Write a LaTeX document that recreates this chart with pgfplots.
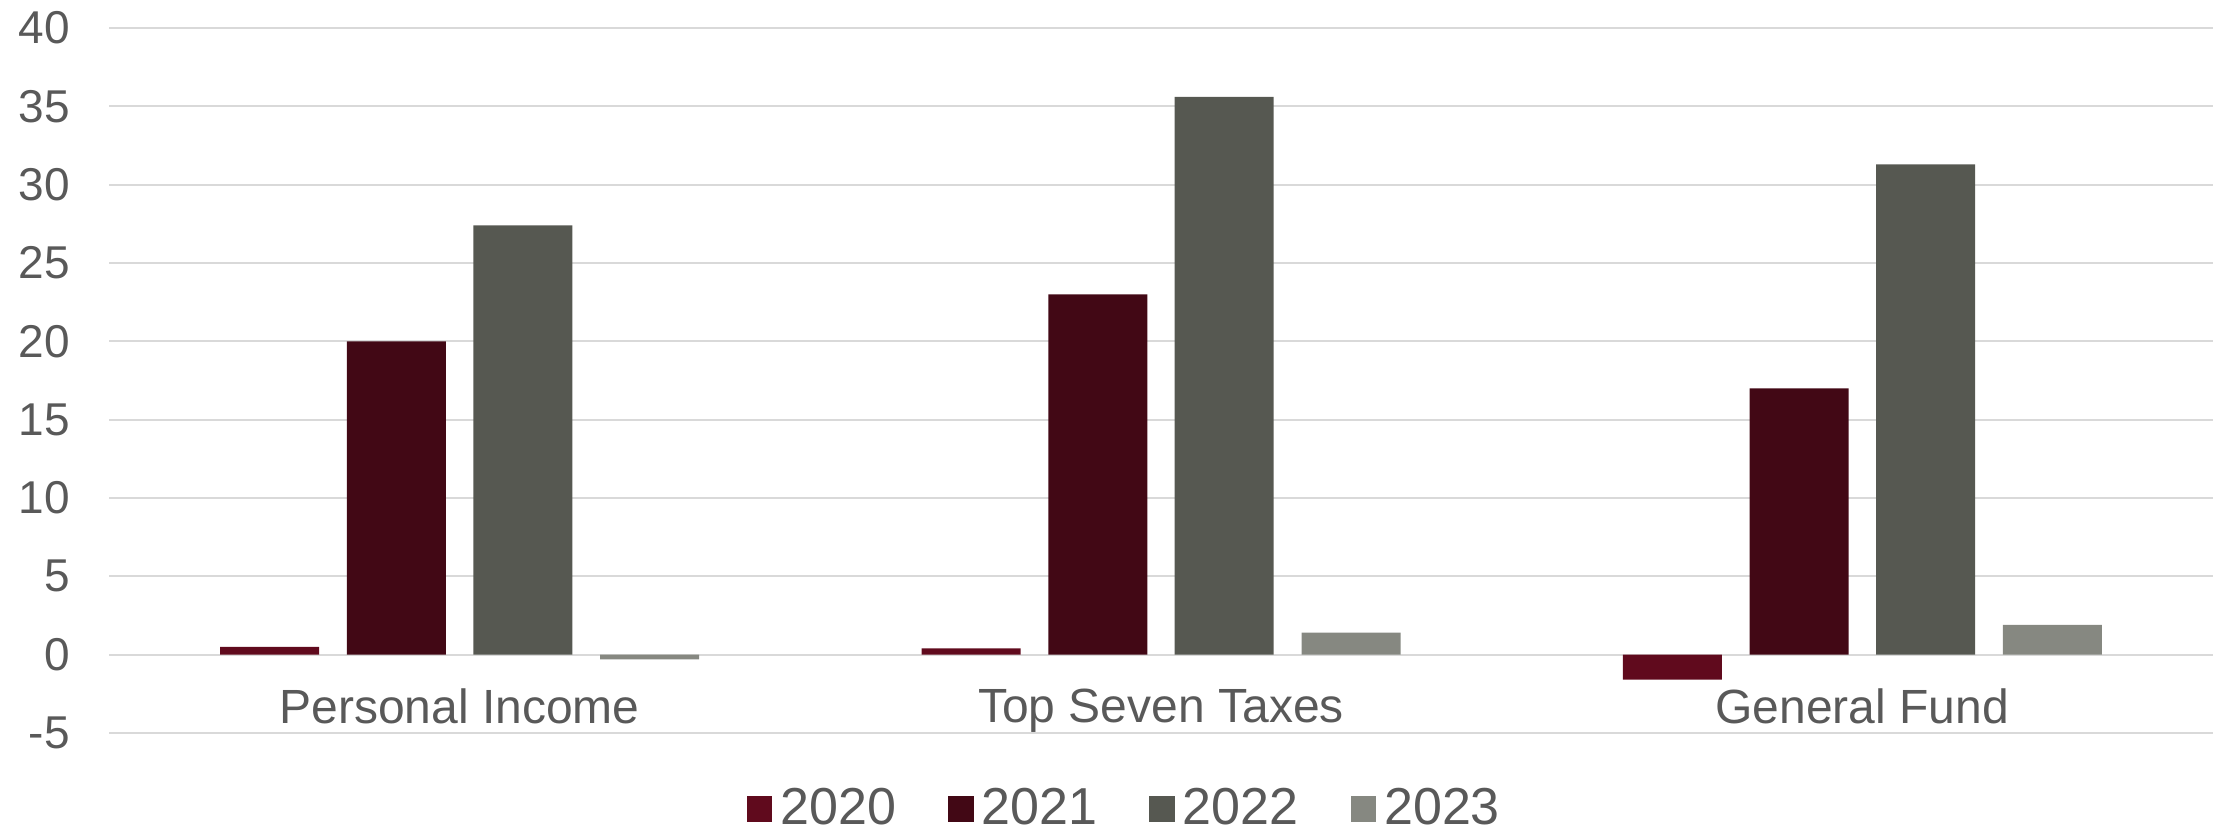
\documentclass[border=0pt]{standalone}
\usepackage{fontspec}
\setmainfont{Liberation Sans}
\usepackage{pgfplots}
\pgfplotsset{compat=1.18}
\definecolor{c2020}{HTML}{600A1D}
\definecolor{c2021}{HTML}{420815}
\definecolor{c2022}{HTML}{565851}
\definecolor{c2023}{HTML}{868881}
\definecolor{txt}{HTML}{595959}
\definecolor{gridc}{HTML}{D9D9D9}
\begin{document}
\begin{tikzpicture}
\useasboundingbox (0,0) rectangle (554.75pt,208pt);
\begin{axis}[
  at={(27.25pt,24.75pt)}, anchor=south west,
  scale only axis, width=526pt, height=176.25pt,
  xmin=-0.5, xmax=2.5, ymin=-5, ymax=40,
  ytick={-5,0,5,10,15,20,25,30,35,40},
  xtick={0,1,2}, xticklabels={Personal Income, Top Seven Taxes, General Fund},
  axis line style={draw=none},
  major tick length=0pt,
  ymajorgrids, grid style={gridc, line width=0.5pt},
  ybar, bar width=24.75pt,
  /pgf/number format/assume math mode=true,
  yticklabel style={font=\fontsize{11.5}{13}\selectfont, text=txt, xshift=-6.25pt},
  xticklabel style={font=\fontsize{12}{14}\selectfont, text=txt, yshift=14.5pt},
  legend columns=4,
  legend style={at={(0.484,-0.108)}, anchor=center, draw=none, fill=none,
    font=\fontsize{13}{15}\selectfont, text=txt, inner sep=0pt,
    nodes={inner sep=2pt},
    /tikz/every even column/.append style={column sep=11pt}},
  legend image code/.code={\fill[#1,draw=none] (0pt,-3.2pt) rectangle (6.4pt,3.2pt);},
]
\addplot[fill=c2020, draw=none, bar shift=-47.5pt] coordinates {(0,0.5) (1,0.4) (2,-1.6)};
\addplot[fill=c2021, draw=none, bar shift=-15.8pt] coordinates {(0,20.0) (1,23.0) (2,17.0)};
\addplot[fill=c2022, draw=none, bar shift=15.8pt] coordinates {(0,27.4) (1,35.6) (2,31.3)};
\addplot[fill=c2023, draw=none, bar shift=47.5pt] coordinates {(0,-0.3) (1,1.4) (2,1.9)};
\legend{2020,2021,2022,2023}
\end{axis}
\end{tikzpicture}
\end{document}
